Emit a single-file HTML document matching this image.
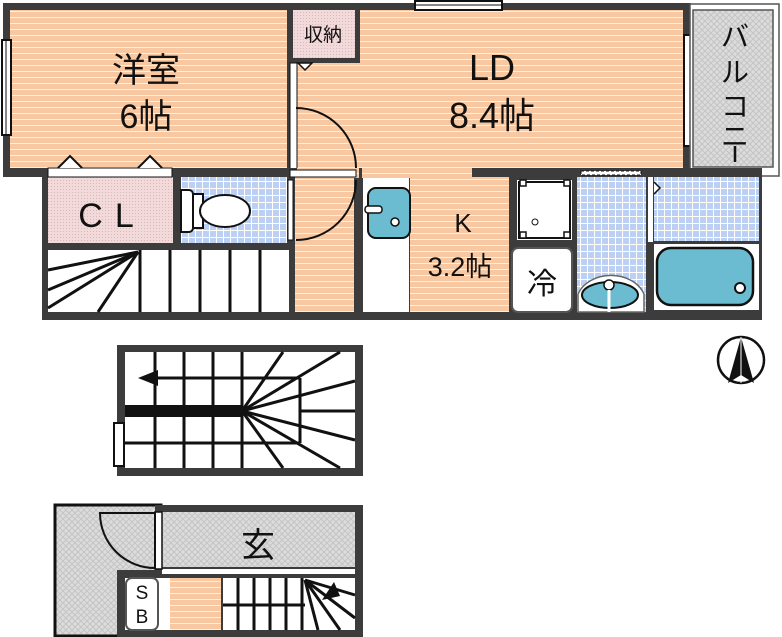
<!DOCTYPE html>
<html><head><meta charset="utf-8"><style>
html,body{margin:0;padding:0;background:#fff}
svg{display:block}
text{font-family:"Liberation Sans","Noto Sans CJK JP",sans-serif;fill:#111}
</style></head><body>
<svg width="782" height="637" viewBox="0 0 782 637" xmlns="http://www.w3.org/2000/svg">
<defs>
<pattern id="wd" width="6" height="6" patternUnits="userSpaceOnUse"><rect width="6" height="6" fill="#f8c8a2"/><rect y="5" width="6" height="1" fill="#fff0e4"/></pattern>
<pattern id="tile" width="7" height="7" patternUnits="userSpaceOnUse"><rect width="7" height="7" fill="#ffffff"/><rect width="6" height="6" fill="#bcd0f4"/></pattern>
<pattern id="pk" width="3" height="3" patternUnits="userSpaceOnUse"><rect width="3" height="3" fill="#f2dada"/><rect width="1" height="1" fill="#d8b8b8"/></pattern>
<pattern id="gr" width="6" height="6" patternUnits="userSpaceOnUse"><rect width="6" height="6" fill="#dcdcdc"/><path d="M0 0L6 6M6 0L0 6" stroke="#c4c4c4" stroke-width="1"/></pattern>
</defs>

<rect x="3" y="3" width="688" height="174" fill="#3c3c3c"/>
<rect x="10" y="10" width="277" height="158" fill="url(#wd)"/>
<rect x="297" y="10" width="386" height="158" fill="url(#wd)"/>
<rect x="292" y="10" width="65" height="48" fill="url(#pk)"/>
<rect x="287" y="58" width="72" height="5" fill="#3c3c3c"/>
<rect x="355" y="10" width="5" height="53" fill="#3c3c3c"/>
<rect x="290" y="10" width="3" height="53" fill="#3c3c3c"/>
<text x="323" y="41" font-size="19" text-anchor="middle">収納</text>
<path d="M298 63h14l-7 7z" fill="#fff" stroke="#111" stroke-width="1.5"/>
<rect x="290" y="63" width="7" height="115" fill="#fff" stroke="#111" stroke-width="1"/>
<rect x="2" y="40" width="9" height="95" fill="#fff" stroke="#111" stroke-width="2"/>
<line x1="6" y1="40" x2="6" y2="135" stroke="#111"/>
<rect x="415" y="1" width="87" height="9" fill="#fff" stroke="#111" stroke-width="2"/>
<line x1="415" y1="5" x2="502" y2="5" stroke="#111"/>
<rect x="684" y="35" width="8" height="111" fill="#fff" stroke="#111" stroke-width="2"/>
<rect x="690" y="4" width="89" height="172" fill="#fff" stroke="#555" stroke-width="1.5"/>
<rect x="693" y="10" width="80" height="157" fill="url(#gr)" stroke="#555" stroke-width="1.5"/>
<text x="735" y="46" font-size="28" text-anchor="middle">バ</text>
<text x="735" y="82" font-size="28" text-anchor="middle">ル</text>
<text x="735" y="116" font-size="28" text-anchor="middle">コ</text>
<text x="735" y="146" font-size="28" text-anchor="middle">ニ</text>
<line x1="735" y1="146" x2="735" y2="162" stroke="#111" stroke-width="2.5"/>

<rect x="42" y="168" width="720" height="152" fill="#3c3c3c"/>
<rect x="48" y="177" width="125" height="66" fill="url(#pk)"/>
<rect x="181" y="177" width="106" height="66" fill="url(#tile)"/>
<rect x="48" y="250" width="241" height="62" fill="#fff"/>
<rect x="295" y="177" width="59" height="135" fill="url(#wd)"/>
<rect x="297" y="168" width="62" height="10" fill="url(#wd)"/>
<rect x="363" y="177" width="46" height="135" fill="#fff"/>
<rect x="410" y="177" width="99" height="135" fill="url(#wd)"/>
<rect x="362" y="168" width="110" height="10" fill="url(#wd)"/>
<rect x="517" y="180" width="55" height="60" fill="#fff"/>
<rect x="577" y="177" width="69" height="135" fill="url(#tile)"/>
<rect x="654" y="177" width="105" height="64" fill="url(#tile)"/>
<rect x="654" y="244" width="105" height="66" fill="#fff"/>
<rect x="48" y="168" width="124" height="9" fill="#fff" stroke="#111" stroke-width="1"/>
<path d="M58 168l12-12 12 12M138 168l12-12 12 12" fill="#fff" stroke="#111" stroke-width="2"/>
<text x="112" y="227" font-size="34" text-anchor="middle" letter-spacing="12">CL</text>
<path d="M181 190h8a4 4 0 0 1 4 4v34a4 4 0 0 1-4 4h-8z" fill="#fff" stroke="#111" stroke-width="2"/>
<rect x="193" y="194" width="10" height="34" fill="#fff" stroke="#111" stroke-width="2"/>
<ellipse cx="225" cy="211" rx="25" ry="16" fill="#fff" stroke="#111" stroke-width="2"/>
<g stroke="#111" stroke-width="3">
<line x1="140" y1="250" x2="140" y2="312"/><line x1="170" y1="250" x2="170" y2="312"/><line x1="200" y1="250" x2="200" y2="312"/><line x1="230" y1="250" x2="230" y2="312"/><line x1="260" y1="250" x2="260" y2="312"/>
<line x1="138" y1="252" x2="48" y2="270"/><line x1="138" y1="252" x2="48" y2="290"/><line x1="138" y1="252" x2="48" y2="308"/><line x1="138" y1="252" x2="98" y2="312"/>
</g>
<rect x="290" y="170" width="66" height="7" fill="#fff" stroke="#111" stroke-width="1"/>
<rect x="288" y="180" width="5" height="60" fill="#fff" stroke="#111" stroke-width="1"/>
<path d="M296 108A60 60 0 0 1 356 168" fill="none" stroke="#111" stroke-width="2"/>
<path d="M296 240A60 60 0 0 0 356 180" fill="none" stroke="#111" stroke-width="2"/>
<rect x="368" y="188" width="42" height="50" rx="8" fill="#6bbcd0" stroke="#111" stroke-width="2"/>
<rect x="365" y="206" width="17" height="7" rx="3" fill="#fff" stroke="#111" stroke-width="1.5"/>
<circle cx="395" cy="222" r="4" fill="#fff" stroke="#111" stroke-width="1.5"/>
<text x="463" y="232" font-size="26" text-anchor="middle">K</text>
<text x="460" y="276" font-size="27" text-anchor="middle">3.2帖</text>
<rect x="519" y="182" width="51" height="56" fill="#fff" stroke="#111" stroke-width="2"/>
<g fill="#fff" stroke="#111" stroke-width="1.5"><rect x="520" y="180" width="6" height="6"/><rect x="564" y="180" width="6" height="6"/><rect x="520" y="232" width="6" height="6"/><rect x="564" y="232" width="6" height="6"/></g>
<circle cx="535" cy="222" r="3" fill="#fff" stroke="#111"/>
<rect x="512" y="248" width="60" height="64" rx="6" fill="#fff" stroke="#555" stroke-width="2"/>
<text x="542" y="294" font-size="30" text-anchor="middle">冷</text>
<path d="M578 312v-18a35 28 0 0 1 66 0v18z" fill="#fff" stroke="#666" stroke-width="1.5"/>
<ellipse cx="610" cy="295" rx="28" ry="13" fill="#6bbcd0" stroke="#111" stroke-width="2"/>
<circle cx="609" cy="285" r="5" fill="#fff" stroke="#111" stroke-width="1.5"/>
<line x1="609" y1="290" x2="609" y2="312" stroke="#fff" stroke-width="3"/>
<rect x="648" y="177" width="5" height="65" fill="#fff"/>
<path d="M654 182l6 6-6 6" fill="#fff" stroke="#111" stroke-width="1.5"/>
<rect x="581" y="171" width="60" height="4" fill="#fff" stroke="#111" stroke-width="1" stroke-dasharray="3 2"/>
<rect x="657" y="248" width="96" height="57" rx="14" fill="#6bbcd0" stroke="#111" stroke-width="2.5"/>
<circle cx="740" cy="288" r="5" fill="#fff" stroke="#111" stroke-width="2"/>
<text x="146" y="82" font-size="34" text-anchor="middle">洋室</text>
<text x="146" y="128" font-size="34" text-anchor="middle">6帖</text>
<text x="492" y="80" font-size="36" text-anchor="middle">LD</text>
<text x="492" y="128" font-size="36" text-anchor="middle">8.4帖</text>

<circle cx="741" cy="360" r="23" fill="#fff" stroke="#111" stroke-width="2.5"/>
<path d="M741 337L728 383L741 375L754 383z" fill="#111"/>
<line x1="741" y1="337" x2="741" y2="383" stroke="#fff" stroke-width="1"/>

<rect x="117" y="345" width="246" height="131" fill="#3c3c3c"/>
<rect x="125" y="352" width="230" height="116" fill="#fff"/>
<g stroke="#111" stroke-width="3">
<line x1="155" y1="352" x2="155" y2="468"/><line x1="184" y1="352" x2="184" y2="468"/><line x1="213" y1="352" x2="213" y2="468"/><line x1="242" y1="352" x2="242" y2="468"/>
<line x1="125" y1="443" x2="300" y2="443"/><line x1="300" y1="378" x2="300" y2="443"/><line x1="300" y1="411" x2="355" y2="411"/>
<line x1="145" y1="378" x2="300" y2="378"/>
<line x1="242" y1="411" x2="283" y2="352"/><line x1="242" y1="411" x2="340" y2="352"/><line x1="242" y1="411" x2="355" y2="381"/><line x1="242" y1="411" x2="355" y2="440"/><line x1="242" y1="411" x2="340" y2="468"/><line x1="242" y1="411" x2="283" y2="468"/>
</g>
<rect x="125" y="405" width="118" height="12" fill="#111"/>
<path d="M138 378l20-8v16z" fill="#111"/>
<rect x="114" y="423" width="10" height="43" fill="#fff" stroke="#111" stroke-width="2"/>

<rect x="55" y="505" width="106" height="131" fill="url(#gr)" stroke="#111" stroke-width="3"/>
<rect x="155" y="505" width="208" height="132" fill="#3c3c3c"/>
<rect x="162" y="512" width="193" height="55" fill="url(#gr)"/>
<rect x="162" y="569" width="193" height="5" fill="#fff"/>
<rect x="117" y="570" width="40" height="67" fill="#3c3c3c"/>
<rect x="125" y="578" width="45" height="52" fill="#fff"/>
<rect x="170" y="578" width="51" height="52" fill="url(#wd)"/>
<rect x="223" y="578" width="132" height="52" fill="#fff"/>
<rect x="126" y="578" width="32" height="52" rx="6" fill="#fff" stroke="#555" stroke-width="2"/>
<text x="142" y="599" font-size="19" text-anchor="middle">S</text>
<text x="142" y="623" font-size="19" text-anchor="middle">B</text>
<rect x="155" y="512" width="7" height="57" fill="#fff" stroke="#111" stroke-width="1.5"/>
<path d="M100 513h55v55A55 55 0 0 1 100 513z" fill="none" stroke="#111" stroke-width="2"/>
<text x="258" y="557" font-size="34" text-anchor="middle">玄</text>
<g stroke="#111" stroke-width="3">
<line x1="238" y1="578" x2="238" y2="630"/><line x1="254" y1="578" x2="254" y2="630"/><line x1="270" y1="578" x2="270" y2="630"/><line x1="286" y1="578" x2="286" y2="630"/><line x1="302" y1="578" x2="302" y2="630"/>
<line x1="223" y1="605" x2="305" y2="605"/>
<line x1="305" y1="580" x2="355" y2="595"/><line x1="305" y1="580" x2="355" y2="618"/><line x1="305" y1="580" x2="340" y2="630"/><line x1="305" y1="580" x2="318" y2="630"/>
</g>
<path d="M322 600l12-18 6 14z" fill="#111"/>
</svg>
</body></html>
